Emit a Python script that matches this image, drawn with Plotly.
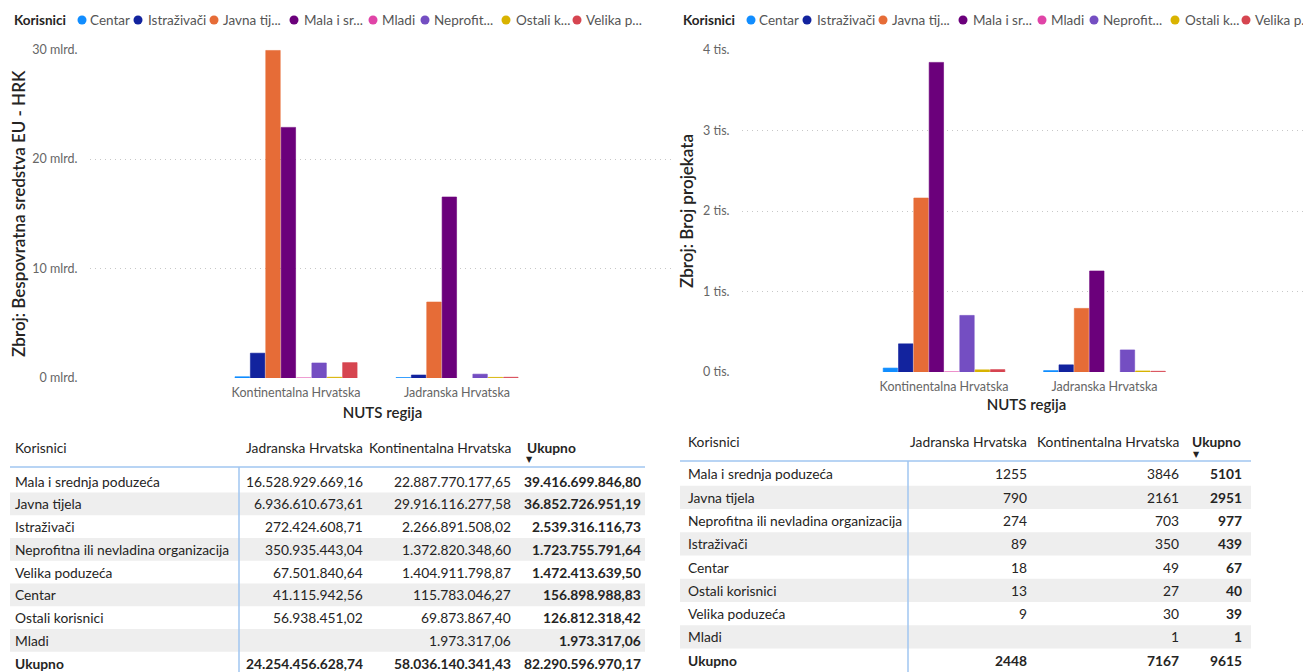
import plotly.graph_objects as go

# ---------------- DATA ----------------
categories = ["Centar", "Istraživači", "Javna tijela", "Mala i srednja poduzeća", "Mladi",
              "Neprofitna ili nevladina organizacija", "Ostali korisnici", "Velika poduzeća"]
legend_labels = ["Centar", "Istraživači", "Javna tij...", "Mala i sr...", "Mladi",
                 "Neprofit...", "Ostali k...", "Velika p..."]
regions = ["Kontinentalna Hrvatska", "Jadranska Hrvatska"]
table_columns = ["Korisnici", "Jadranska Hrvatska", "Kontinentalna Hrvatska", "Ukupno"]

funds_kont = [115783046.27, 2266891508.02, 29916116277.58, 22887770177.65, 1973317.06,
              1372820348.60, 69873867.40, 1404911798.87]
funds_jad = [41115942.56, 272424608.71, 6936610673.61, 16528929669.16, None,
             350935443.04, 56938451.02, 67501840.64]
funds_total = [156898988.83, 2539316116.73, 36852726951.19, 39416699846.80, 1973317.06,
               1723755791.64, 126812318.42, 1472413639.50]
funds_col_totals = [24254456628.74, 58036140341.43, 82290596970.17]  # Jadranska, Kontinentalna, Ukupno

proj_kont = [49, 350, 2161, 3846, 1, 703, 27, 30]
proj_jad = [18, 89, 790, 1255, None, 274, 13, 9]
proj_total = [67, 439, 2951, 5101, 1, 977, 40, 39]
proj_col_totals = [2448, 7167, 9615]

funds_ticks = [0, 10e9, 20e9, 30e9]
funds_ticktext = ["0 mlrd.", "10 mlrd.", "20 mlrd.", "30 mlrd."]
proj_ticks = [0, 1000, 2000, 3000, 4000]
proj_ticktext = ["0 tis.", "1 tis.", "2 tis.", "3 tis.", "4 tis."]

colors = ["#118DFF", "#12239E", "#E66C37", "#6B007B", "#E044A7", "#744EC2", "#D9B300", "#D64550"]

# ---------------- HELPERS ----------------
OFF = 8                      # page body margin offset
W, H = 1311 - OFF, 672 - OFF
FONT = "Segoe UI, Lato, sans-serif"
DARK = "#252423"
GRAY = "#666666"


def px(x):
    return (x - OFF) / W


def py(y):
    return 1 - (y - OFF) / H


def fmt_hr(v):
    if v is None:
        return ""
    s = f"{v:,.2f}"
    return s.replace(",", "X").replace(".", ",").replace("X", ".")


def fmt_int(v):
    return "" if v is None else str(v)


fig = go.Figure()

# ---------------- BARS ----------------
for i, cat in enumerate(categories):
    fig.add_trace(go.Bar(
        x=regions, y=[funds_kont[i], funds_jad[i]], name=cat,
        marker=dict(color=colors[i], line=dict(color=colors[i], width=0.6)),
        xaxis="x", yaxis="y", showlegend=False))
for i, cat in enumerate(categories):
    fig.add_trace(go.Bar(
        x=regions, y=[proj_kont[i], proj_jad[i]], name=cat,
        marker=dict(color=colors[i], line=dict(color=colors[i], width=0.6)),
        xaxis="x2", yaxis="y2", showlegend=False))

# ---------------- AXES ----------------
yaxis_common = dict(showgrid=True, gridcolor="#C8C8C8", griddash="1px,4px", gridwidth=1,
                    zeroline=False, showline=False, ticks="outside", ticklen=9,
                    tickcolor="rgba(0,0,0,0)",
                    tickfont=dict(family=FONT, size=12.5, color=GRAY), automargin=False)
xaxis_common = dict(showgrid=False, zeroline=False, showline=False, ticks="outside", ticklen=3,
                    tickcolor="rgba(0,0,0,0)",
                    tickfont=dict(family=FONT, size=12.5, color=GRAY), automargin=False,
                    categoryorder="array", categoryarray=regions)
ytitle_font = dict(family=FONT, size=17, color=DARK, weight=600)
xtitle_font = dict(family=FONT, size=15, color=DARK, weight=600)

fig.update_layout(
    width=W, height=H, margin=dict(l=0, r=0, t=0, b=0),
    paper_bgcolor="white", plot_bgcolor="white",
    barmode="group", bargap=0.236, bargroupgap=0.06,
    font=dict(family=FONT, color=DARK),
    xaxis=dict(domain=[px(90), px(675)], range=[-1.28, 2.354],
               title=dict(text="NUTS regija", standoff=8, font=xtitle_font), **xaxis_common),
    yaxis=dict(domain=[py(378), py(49.5)], range=[0, 30e9], tickvals=funds_ticks, ticktext=funds_ticktext,
               title=dict(text="Zbroj: Bespovratna sredstva EU - HRK", standoff=7, font=ytitle_font),
               **yaxis_common),
    xaxis2=dict(domain=[px(742), 1.0], range=[-1.259, 2.287], anchor="y2",
                title=dict(text="NUTS regija", standoff=6, font=xtitle_font), **xaxis_common),
    yaxis2=dict(domain=[py(372), py(50)], range=[0, 4000], anchor="x2", tickvals=proj_ticks,
                ticktext=proj_ticktext,
                title=dict(text="Zbroj: Broj projekata", standoff=5, font=ytitle_font),
                **yaxis_common),
)

shapes = []
annotations = []


def text(t, x, y, anchor="left", size=13.8, color=DARK, family=FONT):
    annotations.append(dict(text=t, x=px(x), y=py(y), xref="paper", yref="paper",
                            xanchor=anchor, yanchor="middle", showarrow=False,
                            font=dict(family=family, size=size, color=color)))


# ---------------- CUSTOM LEGENDS ----------------
left_circles = [82, 138, 214, 294, 373, 425, 506, 577]
left_texts = [88, 146, 221, 302, 380, 432, 514, 584]
RIGHT_SHIFT = 669
legend_sets = [
    dict(title_x=12, circles=left_circles, texts=left_texts),
    dict(title_x=12 + RIGHT_SHIFT, circles=[c + RIGHT_SHIFT for c in left_circles],
         texts=[t + RIGHT_SHIFT for t in left_texts]),
]
LY = 20
for ls in legend_sets:
    text("<b>Korisnici</b>", ls["title_x"], LY, size=13.5)
    for i, lab in enumerate(legend_labels):
        cx = ls["circles"][i]
        shapes.append(dict(type="circle", xref="paper", yref="paper",
                           x0=px(cx - 4.5), x1=px(cx + 4.5), y0=py(LY + 4.5), y1=py(LY - 4.5),
                           fillcolor=colors[i], line=dict(width=0)))
        text(lab, ls["texts"][i], LY, size=13.5, color="#555555")


# ---------------- TABLES ----------------
def draw_table(order_vals, jad, kont, tot, col_totals, fmt, cfg):
    idx = sorted(range(len(categories)), key=lambda k: -order_vals[k])
    rows = [[categories[k], fmt(jad[k]), fmt(kont[k]), "<b>" + fmt(tot[k]) + "</b>"] for k in idx]
    rows.append(["<b>Ukupno</b>"] + ["<b>" + fmt(v) + "</b>" for v in col_totals])
    # header
    hy = cfg["header_y"]
    text(table_columns[0], cfg["name_x"], hy, "left")
    text(table_columns[1], cfg["col_right"][0], hy, "right")
    text(table_columns[2], cfg["col_right"][1], hy, "right")
    text("<b>" + table_columns[3] + "</b>", cfg["ukupno_x"], hy, cfg["ukupno_anchor"])
    text("▼", cfg["tri"][0], cfg["tri"][1], "center", size=8, family="DejaVu Sans")
    # rows
    for r, row in enumerate(rows):
        yc = cfg["row0"] + r * cfg["step"]
        if r % 2 == 1 and r < len(rows) - 1:
            shapes.append(dict(type="rect", xref="paper", yref="paper", layer="below",
                               x0=px(cfg["x0"]), x1=px(cfg["x1"]),
                               y0=py(yc + cfg["step"] / 2), y1=py(yc - cfg["step"] / 2),
                               fillcolor="#EEEEEE", line=dict(width=0)))
        text(row[0], cfg["name_x"], yc, "left")
        for c in range(3):
            text(row[c + 1], cfg["col_right"][c], yc, "right")
    # rules
    LB = "#A0C6F0"
    shapes.append(dict(type="line", xref="paper", yref="paper", x0=px(cfg["x0"]), x1=px(cfg["x1"]),
                       y0=py(cfg["rule_y"]), y1=py(cfg["rule_y"]), line=dict(color=LB, width=1.5)))
    shapes.append(dict(type="line", xref="paper", yref="paper", x0=px(cfg["vline"]), x1=px(cfg["vline"]),
                       y0=py(cfg["rule_y"]), y1=py(680), line=dict(color=LB, width=1.5)))


draw_table(funds_total, funds_jad, funds_kont, funds_total, funds_col_totals, fmt_hr,
           dict(header_y=447, name_x=13, col_right=[365, 513, 643], ukupno_x=525, ukupno_anchor="left",
                tri=(529, 459), row0=481, step=22.75, x0=10, x1=645, rule_y=467, vline=239))
draw_table(proj_total, proj_jad, proj_kont, proj_total, proj_col_totals, fmt_int,
           dict(header_y=441, name_x=686, col_right=[1029, 1181, 1244], ukupno_x=1243, ukupno_anchor="right",
                tri=(1196, 454), row0=474, step=23.25, x0=680, x1=1251, rule_y=461, vline=908))

fig.update_layout(shapes=shapes, annotations=annotations)

fig.write_html("out.html")
